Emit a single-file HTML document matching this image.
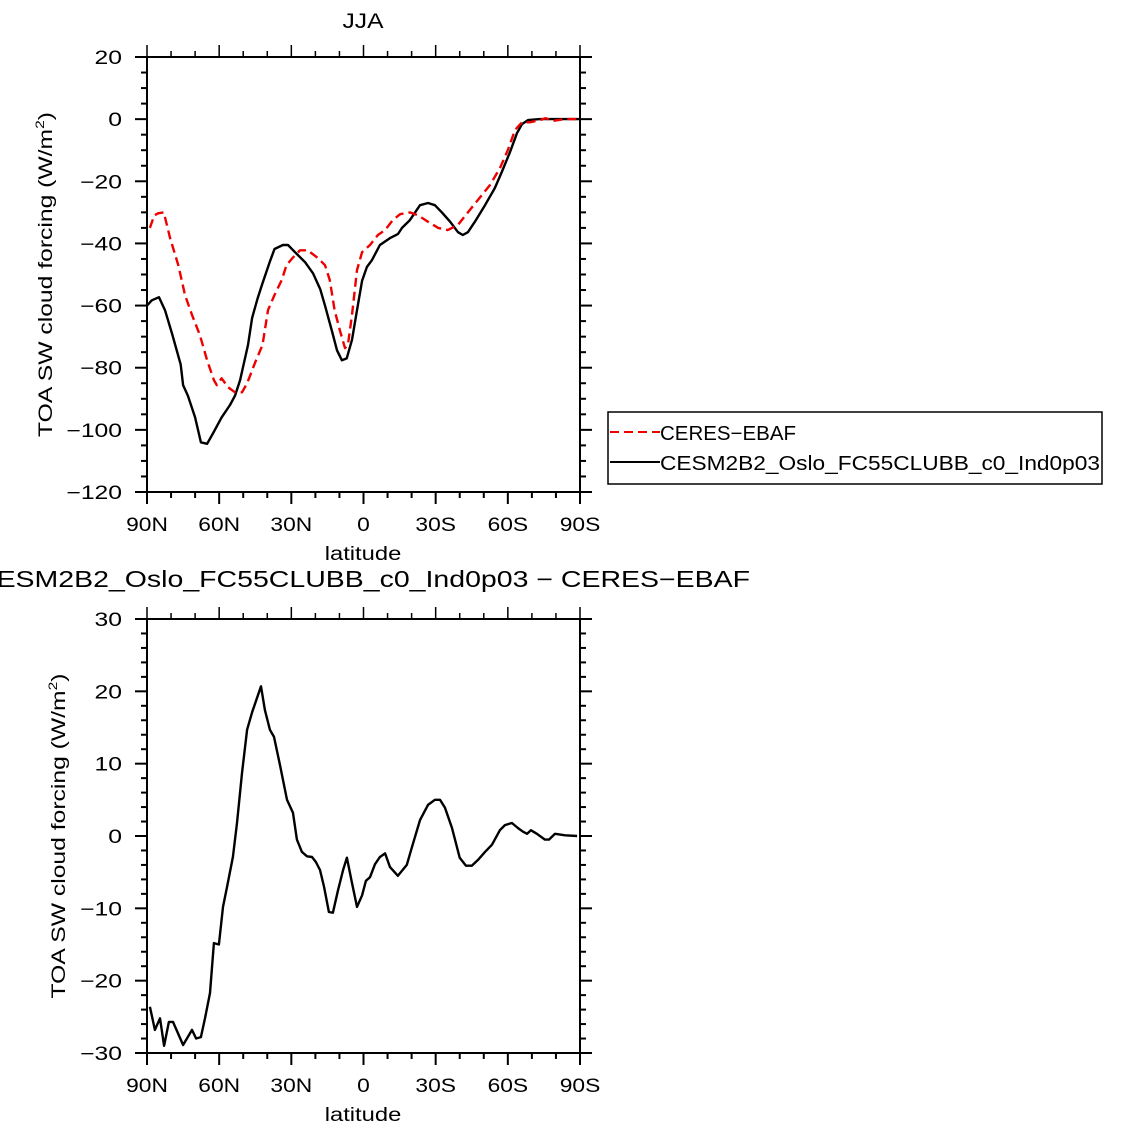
<!DOCTYPE html>
<html><head><meta charset="utf-8"><style>
html,body{margin:0;padding:0;background:#fff}
svg{display:block;font-family:"Liberation Sans",sans-serif}
text{fill:#000}
</style></head><body>
<svg id="chart" width="1135" height="1133" viewBox="0 0 1135 1133" xmlns="http://www.w3.org/2000/svg">
<g id="top"></g>
<g id="bot"></g>
<g>
<rect x="608" y="412" width="494" height="72" fill="none" stroke="#000" stroke-width="1.5"/>
<line x1="610" y1="432" x2="660" y2="432" stroke="#e00" stroke-width="2" stroke-dasharray="9,5"/>
<text x="660" y="440" font-size="20" textLength="136" lengthAdjust="spacingAndGlyphs">CERES−EBAF</text>
<line x1="610" y1="462" x2="660" y2="462" stroke="#000" stroke-width="2"/>
<text x="660" y="470" font-size="20" textLength="440" lengthAdjust="spacingAndGlyphs">CESM2B2_Oslo_FC55CLUBB_c0_Ind0p03</text>
</g>
</svg>
<script>
const xTickLats=[90,60,30,0,-30,-60,-90];
const xTickLabels=["90N","60N","30N","0","30S","60S","90S"];
const topYTicks=[20,0,-20,-40,-60,-80,-100,-120];
const botYTicks=[30,20,10,0,-10,-20,-30];
const modelLat=[90,88,85,82.5,79.6,76,75,73,70,67.6,65,62.5,59,55.5,53.4,51.3,48,46.3,44,42,39,37,33.5,31.4,28.5,24.3,21,18,16,13,11,9,7,4.8,2.7,0.6,-1.4,-3.5,-6.8,-11,-14.3,-16,-19.3,-23.5,-26.8,-29.7,-32.6,-36,-39.3,-41.3,-43.4,-46.3,-50.5,-54.6,-57.5,-60.9,-63.8,-65.9,-68.4,-73.3,-81.6,-90];
const modelVal=[-60,-58.3,-57.3,-61.5,-69,-79,-85.6,-89,-96,-104,-104.5,-101,-96,-92,-89,-84,-72.7,-64,-57.6,-52.8,-46,-41.8,-40.5,-40.5,-42.8,-46,-49.6,-54.7,-60,-68.5,-74.4,-77.6,-77,-71,-61.5,-52,-47.6,-45.4,-40.5,-38.3,-37,-35,-32.5,-27.7,-27,-27.7,-30,-33,-36.4,-37.3,-36.4,-33,-27.7,-22.2,-17,-10.6,-4.5,-1.6,-0.3,0,0,0];
const ceresLat=[88.8,87,85.4,83,80.4,77,74.2,71.3,68,65,62.2,61,59,56.3,53.4,50.5,48.4,45,42,39.7,37,34,32,29.5,26.4,23.2,19,16,14,12,9.8,7.7,6.5,4.8,2.7,0.6,-2.7,-6,-9,-12.2,-15.2,-19.3,-22.6,-26.8,-31,-35,-39.3,-43.4,-47.6,-52.6,-56.7,-60,-63,-65.9,-69,-73.3,-75.8,-78.3,-83.8,-90];
const ceresVal=[-35,-31,-30.3,-30,-38.3,-47,-56.6,-63,-69.5,-77.6,-84,-85.6,-83.4,-86.3,-87.9,-87.9,-85,-78.2,-72.7,-61.5,-56.6,-51.8,-47,-44.7,-42.2,-42.2,-44.7,-47,-51.8,-61.5,-68,-73.7,-72.7,-63,-48.6,-42.8,-40.5,-37.3,-35.7,-32.5,-30.6,-30,-30.9,-33,-35,-35.7,-34,-30,-26,-21.2,-15.8,-10,-3.5,-1,-1,-0.3,0.3,-0.6,0,0];
const diffLat=[88.8,86.7,84.6,82.9,80.9,79.2,75,71.3,69.6,67.6,65.9,63.8,62.2,60.1,58.4,56.7,54.3,52.6,50.5,48.4,46.3,42.6,41,38.9,37.2,34.7,31.8,29.3,27.7,25.6,23.5,21.4,19.8,18.1,16.4,14.4,12.7,10.6,8.5,6.9,4.8,2.7,0.6,-1,-2.7,-4.8,-6.8,-9,-11,-14.3,-18,-20,-23.5,-26.8,-29.7,-31.8,-33.9,-36.8,-40,-42.6,-45,-47.6,-50.5,-53.4,-56.7,-58.8,-61.7,-64.2,-66.3,-68,-69.6,-72.1,-75.4,-77.1,-79.6,-83.8,-88.8];
const diffVal=[-23.6,-26.8,-25.2,-29,-25.7,-25.7,-28.9,-26.8,-28,-27.8,-25.2,-21.7,-14.8,-15,-9.8,-7,-2.9,1.8,8.7,14.7,17.1,20.7,17.4,14.7,13.7,9.8,5,3.2,-0.5,-2.2,-2.8,-2.9,-3.6,-4.7,-7,-10.5,-10.6,-7.5,-4.7,-3,-6.5,-9.8,-8.2,-6.2,-5.7,-3.9,-2.9,-2.4,-4.3,-5.5,-4,-1.7,2.2,4.3,5,5,3.9,1.1,-3,-4.1,-4.1,-3.3,-2.2,-1.2,0.8,1.5,1.8,1.1,0.6,0.3,0.8,0.3,-0.5,-0.5,0.3,0.1,0];
const NS="http://www.w3.org/2000/svg";
function mk(parent,tag,attrs){const e=document.createElementNS(NS,tag);for(const k in attrs)e.setAttribute(k,attrs[k]);parent.appendChild(e);return e;}
function panel(g,cfg){
  const L=147,R=580,T=cfg.top,B=cfg.bottom;
  const xs=lat=>L+(90-lat)*(R-L)/180;
  const ys=v=>T+(cfg.ymax-v)*(B-T)/(cfg.ymax-cfg.ymin);
  const fr=mk(g,'rect',{x:L,y:T,width:R-L,height:B-T,fill:'none',stroke:'#000','stroke-width':2});
  
  
  for(let lat=90;lat>=-90;lat-=10){
    const maj=lat%30===0,len=maj?12:6,x=xs(lat);
    const t1=mk(g,'line',{x1:x,y1:B,x2:x,y2:B+len,stroke:'#000','stroke-width':2});
    
    
    const t2=mk(g,'line',{x1:x,y1:T,x2:x,y2:T-len,stroke:'#000','stroke-width':1.5});
    
    
  }
  xTickLats.forEach((lat,i)=>{
    const t=mk(g,'text',{x:0,y:0,'font-size':19,'text-anchor':'middle',transform:`translate(${xs(lat)},${B+39}) scale(1.2,1)`});
    t.textContent=xTickLabels[i];
    
    
  });
  for(let v=cfg.ymax;v>=cfg.ymin-1e-9;v-=cfg.minor){
    const maj=Math.abs(v%cfg.major)<1e-6,len=maj?12:6,y=ys(v);
    const a=mk(g,'line',{x1:L,y1:y,x2:L-len,y2:y,stroke:'#000','stroke-width':2});
    
    
    const b=mk(g,'line',{x1:R,y1:y,x2:R+len,y2:y,stroke:'#000','stroke-width':2});
    
    
  }
  cfg.yticks.forEach(v=>{
    const t=mk(g,'text',{x:0,y:0,'font-size':19,'text-anchor':'end',transform:`translate(${L-25},${ys(v)+7}) scale(1.3,1)`});
    t.textContent=v<0?'−'+Math.abs(v):String(v);
    
    
  });
  const xl=mk(g,'text',{x:0,y:0,'font-size':19,'text-anchor':'middle',transform:`translate(363,${B+68}) scale(1.25,1)`});
  xl.textContent='latitude';
  
  
  const yl=mk(g,'text',{x:0,y:0,'font-size':19,'text-anchor':'middle',textLength:325,lengthAdjust:'spacingAndGlyphs',transform:`translate(${cfg.ylx},${(T+B)/2}) rotate(-90)`});
  yl.innerHTML='TOA SW cloud forcing (W/m<tspan font-size="12" dy="-8">2</tspan><tspan dy="8">)</tspan>';
  
  
  const ti=mk(g,'text',{x:363,y:cfg.titleY,'font-size':cfg.titleSize,'text-anchor':'middle',textLength:cfg.titleLen,lengthAdjust:'spacingAndGlyphs'});
  ti.textContent=cfg.title;
  
  
  cfg.series.forEach(s=>{
    const d=s.lat.map((la,i)=>(i?'L':'M')+xs(la).toFixed(1)+','+ys(s.val[i]).toFixed(1)).join('');
    const p=mk(g,'path',{d:d,fill:'none',stroke:s.color,'stroke-width':2.4,'stroke-linejoin':'round'});
    if(s.dash)p.setAttribute('stroke-dasharray',s.dash);
    
    
  });
}
panel(document.getElementById('top'),{top:57,bottom:492,ymax:20,ymin:-120,major:20,minor:5,yticks:topYTicks,ylx:52,title:'JJA',titleY:28,titleSize:21,titleLen:41,
  series:[{lat:modelLat,val:modelVal,color:'#000',name:'model-line'},{lat:ceresLat,val:ceresVal,color:'#e00',dash:'9,5',name:'ceres-line'}]});
panel(document.getElementById('bot'),{top:619,bottom:1053,ymax:30,ymin:-30,major:10,minor:2,yticks:botYTicks,ylx:65,title:'CESM2B2_Oslo_FC55CLUBB_c0_Ind0p03 − CERES−EBAF',titleY:587,titleSize:23,titleLen:774,
  series:[{lat:diffLat,val:diffVal,color:'#000',name:'difference-line'}]});
</script>
</body></html>
